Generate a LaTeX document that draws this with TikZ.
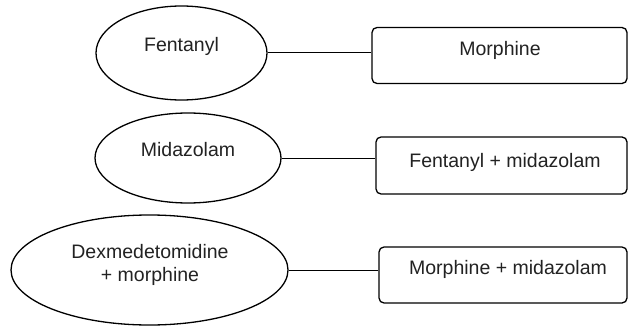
\documentclass[tikz,border=0pt]{standalone}
\usepackage{fontspec}
\setmainfont{Liberation Sans}
\usetikzlibrary{shapes.geometric}
\definecolor{inkgray}{HTML}{222222}
\begin{document}
\begin{tikzpicture}[x=1pt,y=-1pt,
  drug/.style={draw=black,line width=1.3pt,ellipse,inner sep=0pt},
  combo/.style={draw=black,line width=1.3pt,rectangle,rounded corners=5pt,inner sep=0pt},
  lbl/.style={text=inkgray,font=\fontsize{19.5}{23.5}\selectfont,align=center,inner sep=0pt},
  link/.style={draw=black,line width=1pt}]
\useasboundingbox (0,0) rectangle (628,326);
% single-agent ellipses
\node[drug,minimum width=171pt,minimum height=94pt] (e1) at (181.5,53) {};
\node[drug,minimum width=186pt,minimum height=90pt] (e2) at (188,158) {};
\node[drug,minimum width=277pt,minimum height=110pt] (e3) at (149.5,270) {};
\node[lbl] (t1) at (181.5,46) {Fentanyl};
\node[lbl] (t2) at (188,150) {Midazolam};
\node[lbl] (t3) at (150,265) {Dexmedetomidine\\+ morphine};
% comparator boxes
\node[combo,minimum width=255pt,minimum height=56pt] (b1) at (499.5,55.5) {};
\node[combo,minimum width=251pt,minimum height=57pt] (b2) at (501.5,165.5) {};
\node[combo,minimum width=248pt,minimum height=56pt] (b3) at (503,275) {};
\node[lbl] (s1) at (500,50) {Morphine};
\node[lbl] (s2) at (505,162) {Fentanyl + midazolam};
\node[lbl] (s3) at (508,269) {Morphine + midazolam};
% connectors
\draw[link] (e1.east) -- (e1.east -| b1.west);
\draw[link] (e2.east) -- (e2.east -| b2.west);
\draw[link,line width=0.7pt] (e3.east) -- (e3.east -| b3.west);
\end{tikzpicture}
\end{document}
